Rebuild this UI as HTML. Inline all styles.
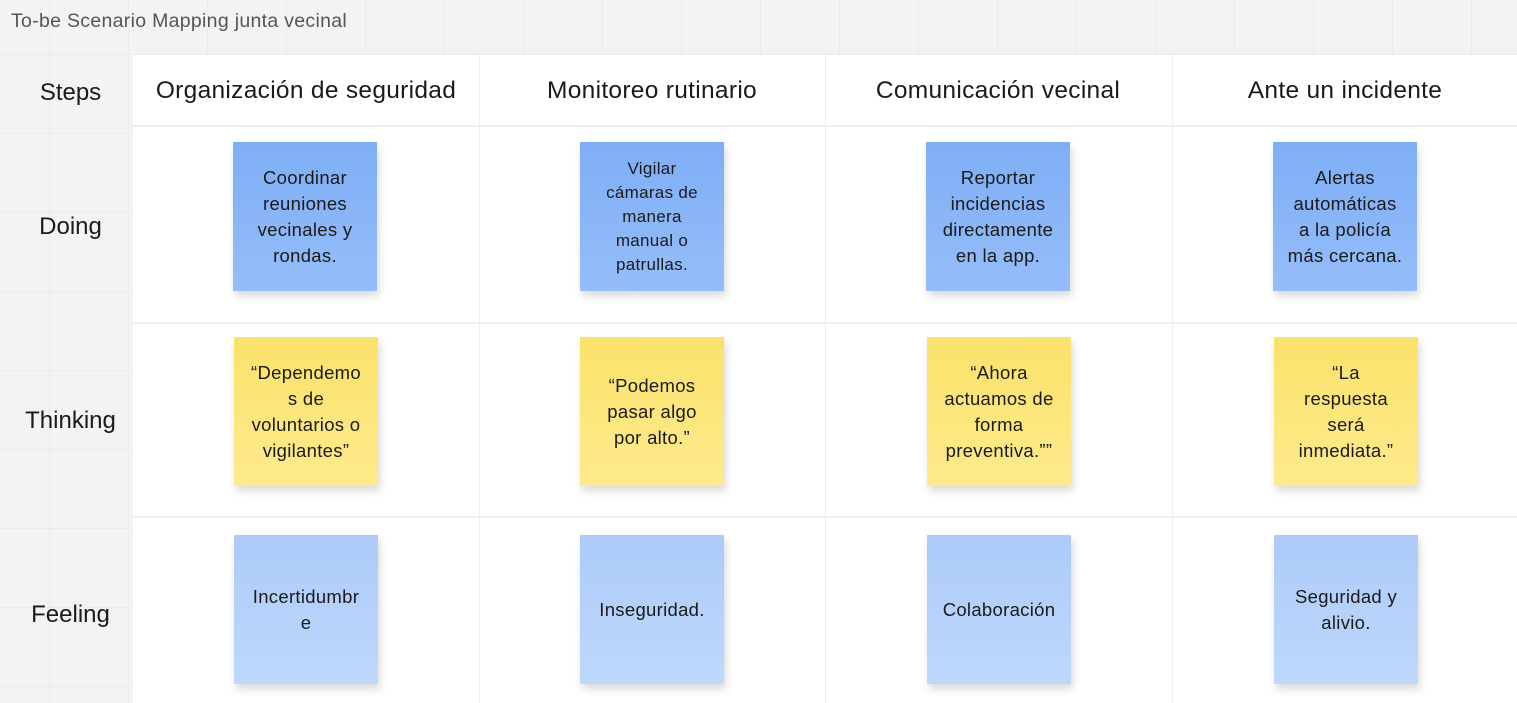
<!DOCTYPE html>
<html><head><meta charset="utf-8"><style>
body{margin:0;width:1517px;height:703px;overflow:hidden;position:relative;font-family:"Liberation Sans",sans-serif;
background-color:#f3f3f3;background-image:linear-gradient(#ebebeb 1px,transparent 1px),linear-gradient(90deg,#ebebeb 1px,transparent 1px);background-size:79px 79px;background-position:-30px -25px;}
.a{position:absolute}
.title{left:11px;top:10px;font-size:19.5px;color:#555;letter-spacing:0.3px}
.board{left:133px;top:55px;width:1384px;height:648px;background:#fff}
.vl{position:absolute;top:55px;width:1px;height:648px;background:#eeeeee}
.hl{position:absolute;left:133px;width:1384px;height:2px;background:#f0f0f0}
.hd{position:absolute;top:77px;font-size:24.5px;color:#1a1a1a;text-align:center;width:346px;letter-spacing:0.3px}
.rl{position:absolute;left:0;width:141px;text-align:center;font-size:24px;color:#1a1a1a}
.s{position:absolute;width:144px;height:149px;display:flex;align-items:center;justify-content:center;text-align:center;font-size:18.5px;line-height:26px;color:#1a1a1a;box-shadow:2px 5px 8px rgba(0,0,0,.15);letter-spacing:0.3px}
.b{background:linear-gradient(#7eaef6,#95bdf8)}
.y{background:linear-gradient(#fce26a,#fdea8d)}
.l{background:linear-gradient(#adcaf9,#bed8fc)}
</style></head><body>
<div class="a title">To-be Scenario Mapping junta vecinal</div>
<div class="a board"></div>
<div class="vl" style="left:479px"></div><div class="vl" style="left:825px"></div><div class="vl" style="left:1172px"></div>
<div class="hl" style="top:125px"></div><div class="hl" style="top:322px"></div><div class="hl" style="top:516px"></div>
<div class="rl" style="top:79px">Steps</div>
<div class="rl" style="top:213px">Doing</div>
<div class="rl" style="top:407px">Thinking</div>
<div class="rl" style="top:601px">Feeling</div>
<div class="hd" style="left:133px">Organización de seguridad</div>
<div class="hd" style="left:479px">Monitoreo rutinario</div>
<div class="hd" style="left:825px">Comunicación vecinal</div>
<div class="hd" style="left:1172px">Ante un incidente</div>

<div class="s b" style="left:233px;top:142px">Coordinar<br>reuniones<br>vecinales y<br>rondas.</div>
<div class="s b" style="left:580px;top:142px;font-size:17px;line-height:24px">Vigilar<br>cámaras de<br>manera<br>manual o<br>patrullas.</div>
<div class="s b" style="left:926px;top:142px">Reportar<br>incidencias<br>directamente<br>en la app.</div>
<div class="s b" style="left:1273px;top:142px">Alertas<br>automáticas<br>a la policía<br>más cercana.</div>

<div class="s y" style="left:234px;top:337px">“Dependemo<br>s de<br>voluntarios o<br>vigilantes”</div>
<div class="s y" style="left:580px;top:337px">“Podemos<br>pasar algo<br>por alto.”</div>
<div class="s y" style="left:927px;top:337px">“Ahora<br>actuamos de<br>forma<br>preventiva.””</div>
<div class="s y" style="left:1274px;top:337px">“La<br>respuesta<br>será<br>inmediata.”</div>

<div class="s l" style="left:234px;top:535px">Incertidumbr<br>e</div>
<div class="s l" style="left:580px;top:535px">Inseguridad.</div>
<div class="s l" style="left:927px;top:535px">Colaboración</div>
<div class="s l" style="left:1274px;top:535px">Seguridad y<br>alivio.</div>
</body></html>
